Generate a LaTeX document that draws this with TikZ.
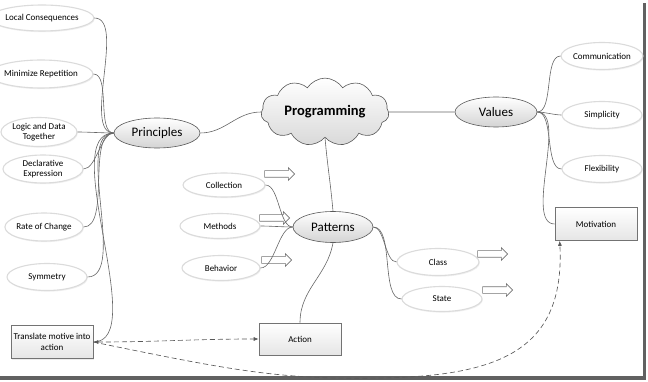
\documentclass[tikz,border=0pt]{standalone}
\usepackage{fontspec}
\setmainfont{Carlito}
\usetikzlibrary{shapes.geometric,shapes.symbols,shapes.arrows,arrows.meta,shadows}

\begin{document}
\begin{tikzpicture}[x=1pt,y=-1pt,
  link/.style={draw=black!60, line width=0.6pt},
  hub/.style={ellipse, draw=black!65, line width=0.6pt, top color=white,
    bottom color=black!17, font=\fontsize{13}{15}\selectfont, inner sep=0pt},
  leaf/.style={ellipse, draw=black!14, line width=1.1pt, fill=white,
    font=\fontsize{9}{10.5}\selectfont, align=center, inner sep=0pt,
    minimum width=80pt, minimum height=27pt,
    drop shadow={opacity=0.12, shadow xshift=0.8pt, shadow yshift=-1.2pt}},
  card/.style={rectangle, draw=black!55, line width=0.6pt, top color=white,
    bottom color=black!10, font=\fontsize{9}{10.5}\selectfont, align=center,
    minimum width=82pt, minimum height=33pt, inner sep=1pt,
    drop shadow={opacity=0.15, shadow xshift=1pt, shadow yshift=-1pt}},
  blockarr/.style={single arrow, draw=black!55, fill=white, line width=0.6pt,
    inner sep=3pt, minimum height=30pt, single arrow head extend=3pt},
  relation/.style={draw=black!65, line width=0.65pt, dash pattern=on 5pt off 3pt},
  tipend/.style={-{Latex[length=5pt,width=4pt]}},
  tipboth/.style={{Latex[length=5pt,width=4pt]}-{Latex[length=5pt,width=4pt]}}
]
\useasboundingbox (0,0) rectangle (648,382);

% frame shadow along the right and bottom edges
\fill[black!62] (643,3) rectangle (646,380);
\fill[black!62] (0,376) rectangle (646,380);

% central topic
\node[cloud, cloud puffs=11, cloud puff arc=115, aspect=2.2, draw=black!65,
  line width=0.6pt, top color=white, bottom color=black!15,
  minimum width=128pt, minimum height=62pt, inner sep=0pt,
  font=\fontsize{14.5}{16}\selectfont\bfseries] (prog) at (325,112) {Programming};

% main branches
\node[hub, minimum width=86pt, minimum height=30pt] (principles) at (157,133) {Principles};
\node[hub, minimum width=82pt, minimum height=30pt] (values) at (496,112) {Values};
\node[hub, minimum width=80pt, minimum height=31pt] (patterns) at (333,227) {Patterns};

% principles
\node[leaf, minimum width=86pt, minimum height=26pt] (lc) at (42,18) {Local Consequences};
\node[leaf, minimum width=84pt, minimum height=28pt] (mr) at (41,74) {Minimize Repetition};
\node[leaf, minimum width=76pt, minimum height=29pt] (ld) at (39,132) {Logic and Data\\Together};
\node[leaf, minimum width=80pt, minimum height=28pt] (de) at (43,169) {Declarative\\Expression};
\node[leaf, minimum width=78pt, minimum height=28pt] (rc) at (44,227) {Rate of Change};
\node[leaf, minimum width=80pt, minimum height=27pt] (sy) at (47,277) {Symmetry};
\node[card] (translate) at (52,342) {Translate motive into\\action};

% values
\node[leaf] (comm) at (602,56) {Communication};
\node[leaf] (simp) at (602,115) {Simplicity};
\node[leaf] (flex) at (602,169) {Flexibility};
\node[card] (motivation) at (596,224) {Motivation};

% patterns
\node[leaf, minimum width=82pt, minimum height=24pt] (coll) at (224,185) {Collection};
\node[leaf, minimum width=80pt, minimum height=25pt] (meth) at (220,226) {Methods};
\node[leaf, minimum width=78pt, minimum height=25pt] (beh) at (221,268) {Behavior};
\node[leaf, minimum width=82pt, minimum height=27pt] (cls) at (438,262) {Class};
\node[leaf, minimum width=80pt, minimum height=25pt] (st) at (442,299) {State};
\node[card, minimum height=32pt] (action) at (300,339) {Action};

% block arrows beside the pattern topics
\node[blockarr] (arrcoll) at (278,174) {};
\node[blockarr] (arrmeth) at (273,218) {};
\node[blockarr] (arrbeh) at (275,260) {};
\node[blockarr] (arrcls) at (491,254) {};
\node[blockarr] (arrst) at (496,290) {};

% tree links
\draw[link] (principles.east) to[out=0,in=180] (prog.west);
\draw[link] (prog.east) -- (values.west);
\draw[link] (prog.south) to[out=-85,in=95] (patterns.north);
\draw[link] (patterns.south) to[out=-100,in=90] (action.north);

\foreach \n in {lc,mr,ld,de,rc,sy,translate}
  \draw[link] (principles.west) to[out=180,in=0,looseness=0.7] (\n.east);
\foreach \n in {comm,simp,flex,motivation}
  \draw[link] (values.east) to[out=0,in=180,looseness=0.7] (\n.west);
\foreach \n in {coll,meth,beh}
  \draw[link] (patterns.west) to[out=180,in=0,looseness=0.7] (\n.east);
\foreach \n in {cls,st}
  \draw[link] (patterns.east) to[out=0,in=180,looseness=0.7] (\n.west);

% dashed relations
\draw[relation, tipboth] (translate.east) to[out=0,in=180] (action.west);
\draw[relation, tipend] (translate.east) .. controls (230,370) and (280,380) .. (380,378)
  .. controls (500,376) and (565,350) .. ([xshift=5pt]motivation.south west);
\end{tikzpicture}
\end{document}
